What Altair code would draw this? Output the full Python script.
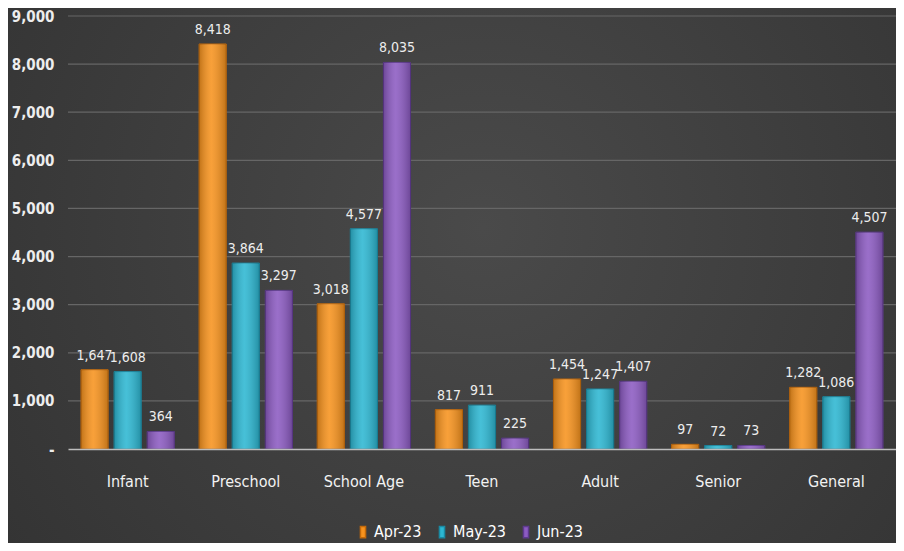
import altair as alt
import pandas as pd

categories = ["Infant", "Preschool", "School Age", "Teen", "Adult", "Senior", "General"]
series = ["Apr-23", "May-23", "Jun-23"]
apr = [1647, 8418, 3018, 817, 1454, 97, 1282]
may = [1608, 3864, 4577, 911, 1247, 72, 1086]
jun = [364, 3297, 8035, 225, 1407, 73, 4507]
ticks = [0, 1000, 2000, 3000, 4000, 5000, 6000, 7000, 8000, 9000]
colors = ["#F7931E", "#2DB7D2", "#8C5BC2"]

rows = []
for s, vals in zip(series, [apr, may, jun]):
    for c, v in zip(categories, vals):
        rows.append({"Category": c, "Month": s, "Value": v})
df = pd.DataFrame(rows)

FONT = "DejaVu Sans Condensed, DejaVu Sans, sans-serif"
TXT = "#EDEDED"

bg = alt.Chart(pd.DataFrame({"a": [0]})).mark_rect(
    fill={"gradient": "radial", "x1": 0.5, "y1": 0.45, "r1": 0, "x2": 0.5, "y2": 0.45, "r2": 0.75,
          "stops": [{"offset": 0, "color": "#4A4A4A"}, {"offset": 1, "color": "#2E2E2E"}]}
).encode(x=alt.value(-70), x2=alt.value(900), y=alt.value(-20), y2=alt.value(540))

yscale = alt.Scale(domain=[0, 9000], nice=False)

grid = alt.Chart(pd.DataFrame({"t": ticks[1:]})).mark_rule(color="#666666", strokeWidth=1.2).encode(
    y=alt.Y("t:Q", scale=yscale), x=alt.value(0), x2=alt.value(828)
)

x = alt.X("Category:N", sort=categories, title=None,
          scale=alt.Scale(paddingInner=0.21, paddingOuter=0.11),
          axis=alt.Axis(labelAngle=0, labelFont=FONT, labelFontSize=16, labelColor="#F2F2F2",
                        labelPadding=24, ticks=False, domainColor="#BDBDBD", domainWidth=1.5,
                        zindex=1))
xo = alt.XOffset("Month:N", sort=series, scale=alt.Scale(paddingInner=0.18, paddingOuter=0))

base = alt.Chart(df)

bars = base.mark_bar(strokeWidth=1).encode(
    x=x,
    xOffset=xo,
    y=alt.Y("Value:Q", title=None, scale=yscale,
            axis=alt.Axis(values=ticks,
                          labelExpr="datum.value == 0 ? '-' : format(datum.value, ',')",
                          labelFont=FONT, labelFontSize=15, labelColor=TXT, labelFontWeight="bold",
                          labelPadding=14, ticks=False, domain=False, grid=False, zindex=1)),
    color=alt.Color("Month:N", sort=series,
                    scale=alt.Scale(domain=series, range=colors),
                    legend=alt.Legend(title=None, orient="none", direction="horizontal",
                                      legendX=287, legendY=508,
                                      symbolType="M-0.45,-1L0.45,-1L0.45,1L-0.45,1Z",
                                      symbolSize=130, labelFont=FONT, labelFontSize=16,
                                      labelColor="#FFFFFF", columnPadding=12, labelOffset=3,
                                      zindex=1)),
    stroke=alt.Stroke("Month:N", sort=series,
                      scale=alt.Scale(domain=series, range=["#C46A0A", "#1A8AA3", "#5E3A8F"]),
                      legend=None),
)

shade = base.mark_bar(
    fill={"gradient": "linear", "x1": 0, "y1": 0, "x2": 1, "y2": 0,
          "stops": [{"offset": 0, "color": "rgba(0,0,0,0.22)"},
                    {"offset": 0.45, "color": "rgba(255,255,255,0.12)"},
                    {"offset": 1, "color": "rgba(0,0,0,0.22)"}]}
).encode(
    x=alt.X("Category:N", sort=categories),
    xOffset=alt.XOffset("Month:N", sort=series),
    y="Value:Q",
)

labels = base.mark_text(dy=-14, font=FONT, fontSize=14, color=TXT).encode(
    x=alt.X("Category:N", sort=categories),
    xOffset=alt.XOffset("Month:N", sort=series),
    y="Value:Q",
    text=alt.Text("Value:Q", format=","),
)

chart = alt.layer(bg, grid, bars, shade, labels).properties(
    width=828, height=433,
    background="#3A3A3A",
    padding={"left": 60, "top": 8, "right": 0, "bottom": 94},
    autosize=alt.AutoSizeParams(type="none"),
).configure_view(stroke=None)

chart.save("out.html", embed_options={"renderer": "svg", "actions": False})
